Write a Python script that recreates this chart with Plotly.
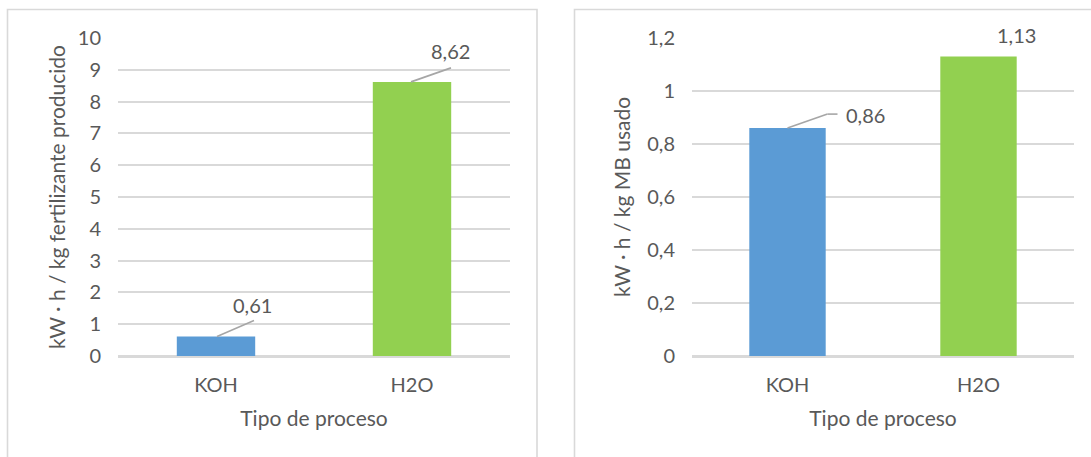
import plotly.graph_objects as go

# Energy use per process type
procesos = ["KOH", "H2O"]
kwh_fertilizante = [0.61, 8.62]
kwh_mb_usado = [0.86, 1.13]
colores = ["#5B9BD5", "#92D050"]

titulo_x = "Tipo de proceso"
titulo_y_izq = "kW · h / kg fertilizante producido"
titulo_y_der = "kW · h / kg MB usado"

W, H = 1091, 457
GRIS_TXT = "#595959"
GRIS_LIN = "#d9d9d9"
FUENTE = "Lato, 'Open Sans', sans-serif"


def fmt(v):
    return f"{v:.2f}".replace(".", ",")


def px_x(p):
    return p / W


def px_y(p):
    return 1 - p / H


fig = go.Figure()

fig.add_trace(go.Bar(x=procesos, y=kwh_fertilizante, marker=dict(color=colores, line=dict(width=0)),
                     width=0.4, xaxis="x", yaxis="y", hoverinfo="x+y", showlegend=False))
fig.add_trace(go.Bar(x=procesos, y=kwh_mb_usado, marker=dict(color=colores, line=dict(width=0)),
                     width=0.4, xaxis="x2", yaxis="y2", hoverinfo="x+y", showlegend=False))

eje_x = dict(type="category", range=[-0.5, 1.5], showgrid=False, zeroline=False, showline=False,
             ticks="", tickfont=dict(size=20, color=GRIS_TXT, family=FUENTE),
             ticklabelstandoff=15, automargin=False,
             title=dict(text=titulo_x, font=dict(size=21, color=GRIS_TXT, family=FUENTE), standoff=16),
             fixedrange=True)
eje_y = dict(showgrid=True, gridcolor=GRIS_LIN, gridwidth=1.6, zeroline=True, zerolinecolor=GRIS_LIN,
             zerolinewidth=2.6, showline=False, ticks="", automargin=False,
             tickfont=dict(size=20, color=GRIS_TXT, family=FUENTE), ticklabelstandoff=16,
             fixedrange=True)

fig.update_layout(
    width=W, height=H, autosize=False,
    margin=dict(l=0, r=0, t=0, b=0, autoexpand=False),
    paper_bgcolor="white", plot_bgcolor="white",
    separators=",.",
    bargap=0.6,
    xaxis=dict(eje_x, domain=[px_x(118), px_x(510)], anchor="y"),
    yaxis=dict(eje_y, domain=[px_y(356), px_y(38)], anchor="x", range=[0, 10], dtick=1,
               title=dict(text=titulo_y_izq, font=dict(size=21, color=GRIS_TXT, family=FUENTE), standoff=6)),
    xaxis2=dict(eje_x, domain=[px_x(692), px_x(1074)], anchor="y2"),
    yaxis2=dict(eje_y, domain=[px_y(356), px_y(38)], anchor="x2", range=[0, 1.2], dtick=0.2,
                title=dict(text=titulo_y_der, font=dict(size=21, color=GRIS_TXT, family=FUENTE), standoff=10)),
)

# Panel frames
marco = dict(type="rect", xref="paper", yref="paper", line=dict(color=GRIS_LIN, width=1.6),
             fillcolor="rgba(0,0,0,0)", layer="below")
fig.add_shape(marco, x0=px_x(7.5), x1=px_x(537), y0=px_y(470), y1=px_y(9.5))
fig.add_shape(marco, x0=px_x(574.5), x1=px_x(1110), y0=px_y(470), y1=px_y(9.5))

lider = dict(color="#a6a6a6", width=1.6)


def linea(xr, yr, cat, val, x0, y0, x1, y1):
    fig.add_shape(type="line", xref=xr, yref=yr, xsizemode="pixel", ysizemode="pixel",
                  xanchor=cat, yanchor=val, x0=x0, y0=y0, x1=x1, y1=y1, line=lider)


def etiqueta(xr, yr, cat, val, dx, dy):
    fig.add_annotation(xref=xr, yref=yr, x=cat, y=val, text=fmt(val), showarrow=False,
                       xshift=dx, yshift=dy, font=dict(size=20, color=GRIS_TXT, family=FUENTE))


# Data labels with leader lines
linea("x", "y", procesos[0], kwh_fertilizante[0], 1, 0, 38, 16)
etiqueta("x", "y", procesos[0], kwh_fertilizante[0], 36, 32)
linea("x", "y", procesos[1], kwh_fertilizante[1], -1, 0, 39, 14)
etiqueta("x", "y", procesos[1], kwh_fertilizante[1], 38, 31)

linea("x2", "y2", procesos[0], kwh_mb_usado[0], 0, 0, 40, 14)
linea("x2", "y2", procesos[0], kwh_mb_usado[0], 40, 14, 50, 14)
etiqueta("x2", "y2", procesos[0], kwh_mb_usado[0], 78, 13)
etiqueta("x2", "y2", procesos[1], kwh_mb_usado[1], 38, 22)

fig.write_html("out.html")
